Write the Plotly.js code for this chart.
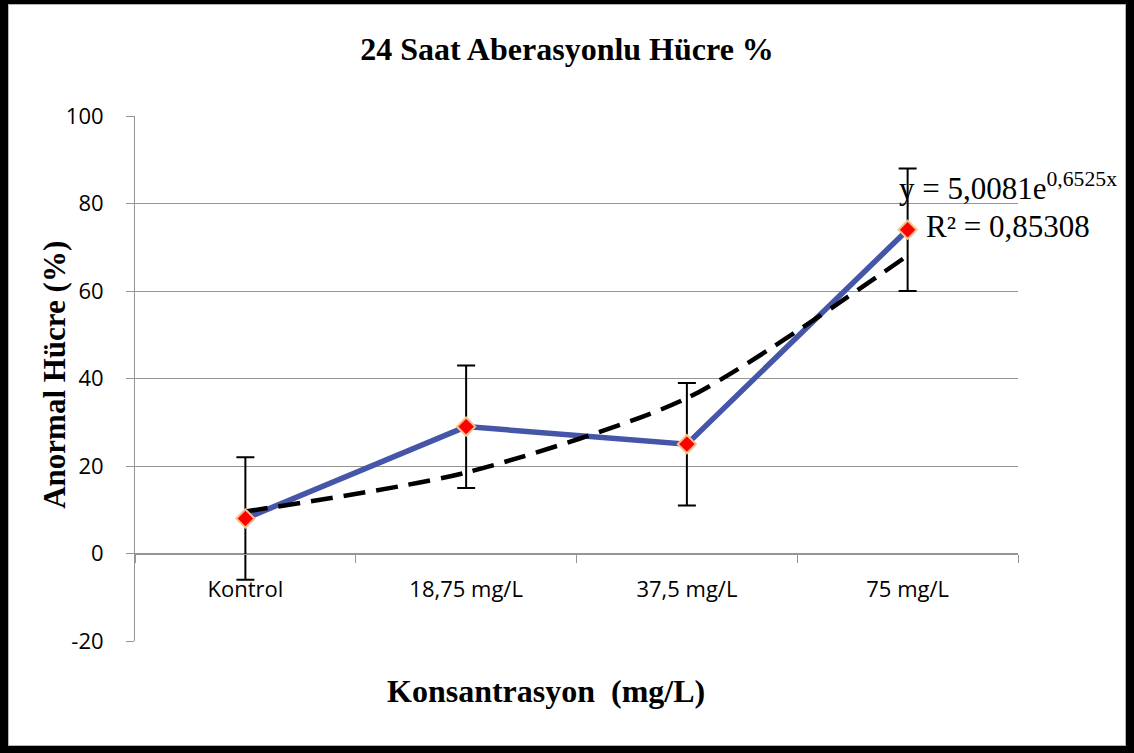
<!DOCTYPE html>
<html>
<head>
<meta charset="utf-8">
<script src="https://cdn.plot.ly/plotly-3.0.1.min.js"></script>
<style>
  html, body { margin: 0; padding: 0; background: #000; width: 1134px; height: 753px; overflow: hidden; }
  #frame { position: absolute; left: 8px; top: 4px; width: 1118px; height: 742px; background: #fff; box-shadow: inset 0 0 0 1px #b4b4b4; }
  #chart { position: absolute; left: 0; top: 0; width: 1118px; height: 742px; }
</style>
</head>
<body>
<div id="frame"><div id="chart"></div></div>
<script>
// ---- data ----
const categories = ['Kontrol', '18,75 mg/L', '37,5 mg/L', '75 mg/L'];
const meanValues = [8, 29, 25, 74];
const errorValues = [14, 14, 14, 14];
const trendValues = [9.6, 18.5, 35.5, 68.1];
const yTickValues = [-20, 0, 20, 40, 60, 80, 100];
const yTickLabels = ['-20', '0', '20', '40', '60', '80', '100'];
const titleText = '24 Saat Aberasyonlu Hücre %';
const yTitleText = 'Anormal Hücre (%)';
const xTitleText = 'Konsantrasyon\u00A0\u00A0(mg/L)';
const equationText = 'y = 5,0081e<sup>0,6525x</sup>';
const r2Text = 'R² = 0,85308';

const serif = 'Liberation Serif, Times New Roman, serif';
const sans = 'Open Sans, sans-serif';

const traces = [
  {
    x: categories, y: meanValues, type: 'scatter', mode: 'lines',
    line: { color: '#4555A8', width: 5.5 },
    hoverinfo: 'skip', showlegend: false
  },
  {
    x: categories, y: trendValues, type: 'scatter', mode: 'lines',
    line: { color: '#000000', width: 4.5, dash: '22px,11px', shape: 'spline', smoothing: 0.7 },
    hoverinfo: 'skip', showlegend: false
  },
  {
    x: categories, y: meanValues, type: 'scatter', mode: 'markers',
    marker: { symbol: 'diamond', size: 14, color: '#FF0000', line: { color: '#F8C08C', width: 2 } },
    error_y: { type: 'data', array: errorValues, visible: true, color: '#000000', thickness: 2, width: 9 },
    showlegend: false
  }
];

const layout = {
  width: 1118, height: 742,
  margin: { l: 127, r: 108, t: 112, b: 105 },
  paper_bgcolor: 'rgba(0,0,0,0)', plot_bgcolor: '#ffffff',
  showlegend: false,
  title: {
    text: '<b>' + titleText + '</b>',
    font: { family: serif, size: 32, color: '#000' },
    xref: 'container', x: 0.5, xanchor: 'center',
    yref: 'container', y: 0.94, yanchor: 'middle'
  },
  xaxis: {
    type: 'category', range: [-0.5, 3.5],
    anchor: 'free', position: 1 / 6,
    showline: true, linecolor: '#959595', linewidth: 1,
    showgrid: false, zeroline: false,
    ticks: 'outside', tickson: 'boundaries', ticklen: 8, tickcolor: '#959595', tickwidth: 1,
    tickfont: { family: sans, size: 22, color: '#000' },
    ticklabelstandoff: 16
  },
  yaxis: {
    range: [-20, 100], tickmode: 'array', tickvals: yTickValues, ticktext: yTickLabels,
    showline: true, linecolor: '#959595', linewidth: 1,
    showgrid: true, gridcolor: '#959595', gridwidth: 1,
    zeroline: false,
    ticks: 'outside', ticklen: 8, tickcolor: '#959595', tickwidth: 1,
    tickfont: { family: sans, size: 22, color: '#000' },
    ticklabelstandoff: 18
  },
  annotations: [
    {
      text: '<b>' + yTitleText + '</b>', textangle: -90,
      xref: 'paper', yref: 'paper', x: -0.0906, y: 0.507,
      xanchor: 'center', yanchor: 'middle', showarrow: false,
      font: { family: serif, size: 31, color: '#000' }
    },
    {
      text: '<b>' + xTitleText + '</b>',
      xref: 'paper', yref: 'paper', x: 0.4655, y: -0.095,
      xanchor: 'center', yanchor: 'middle', showarrow: false,
      font: { family: serif, size: 32, color: '#000' }
    },
    {
      text: equationText,
      xref: 'paper', yref: 'y', x: 0.863, y: 84,
      xanchor: 'left', yanchor: 'middle', showarrow: false,
      font: { family: serif, size: 31, color: '#000' }
    },
    {
      text: r2Text,
      xref: 'paper', yref: 'y', x: 0.894, y: 74.8,
      xanchor: 'left', yanchor: 'middle', showarrow: false,
      font: { family: serif, size: 31, color: '#000' }
    }
  ]
};

Plotly.newPlot('chart', traces, layout, { displayModeBar: false, staticPlot: true });
</script>
</body>
</html>
